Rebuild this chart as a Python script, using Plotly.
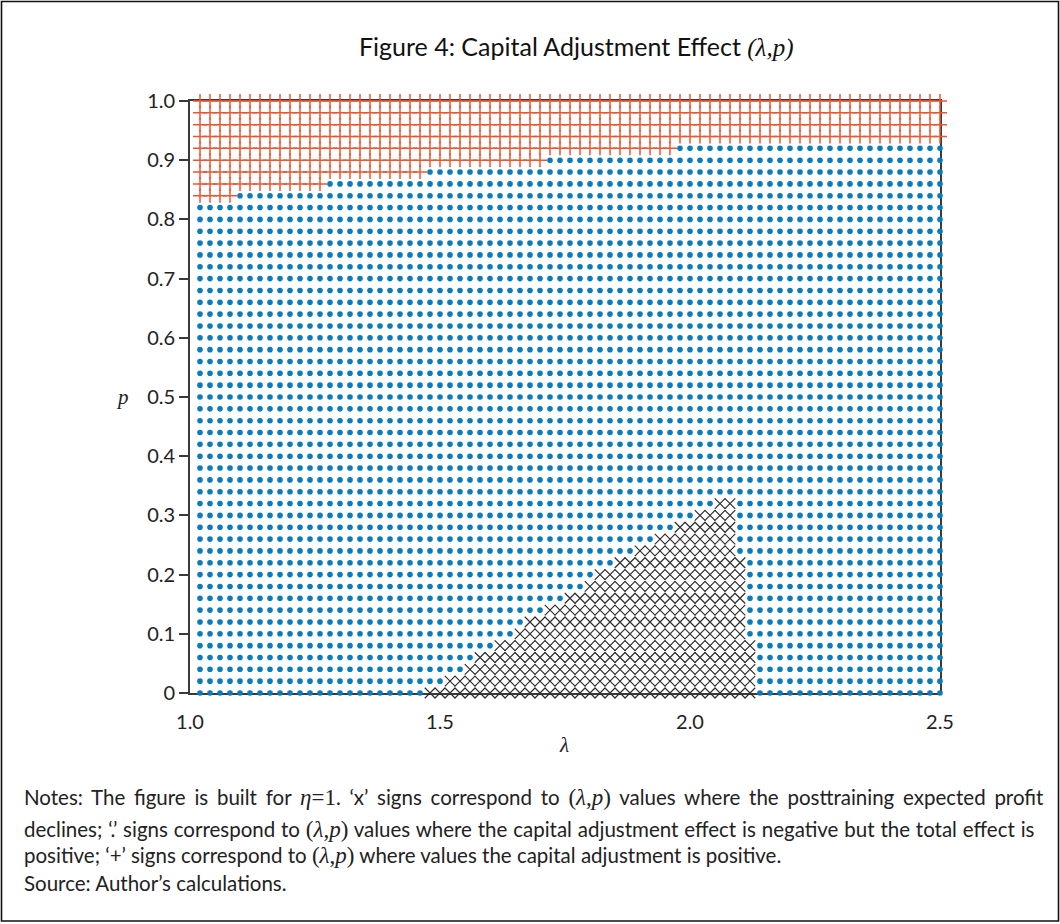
import numpy as np
import plotly.graph_objects as go

# ---------------- data ----------------
# grid of (lambda, p) evaluation points
lambda_grid = np.round(np.arange(1.02, 2.5001, 0.02), 2)
p_grid = np.round(np.arange(0.0, 1.0001, 0.02), 2)

# '+' region: from each lambda breakpoint onward, '+' signs start at this p
plus_break_lambda = [1.02, 1.10, 1.28, 1.48, 1.72, 1.98]
plus_start_p = [0.84, 0.86, 0.88, 0.90, 0.92, 0.94]

# 'x' region: for each p row, first and last lambda with an 'x'
x_rows_p = [0.00, 0.02, 0.04, 0.06, 0.08, 0.10, 0.12, 0.14, 0.16,
            0.18, 0.20, 0.22, 0.24, 0.26, 0.28, 0.30, 0.32]
x_first_lambda = [1.48, 1.52, 1.56, 1.58, 1.62, 1.66, 1.68, 1.72, 1.76,
                  1.80, 1.82, 1.86, 1.90, 1.94, 1.98, 2.02, 2.06]
x_last_lambda = [2.12, 2.12, 2.12, 2.12, 2.12, 2.10, 2.10, 2.10, 2.10,
                 2.10, 2.10, 2.10, 2.08, 2.08, 2.08, 2.08, 2.08]

y_tick_vals = [0, 0.1, 0.2, 0.3, 0.4, 0.5, 0.6, 0.7, 0.8, 0.9, 1.0]
y_tick_text = ["0", "0.1", "0.2", "0.3", "0.4", "0.5", "0.6", "0.7", "0.8", "0.9", "1.0"]
x_tick_vals = [1.0, 1.5, 2.0, 2.5]
x_tick_text = ["1.0", "1.5", "2.0", "2.5"]

# ---------------- classify grid ----------------
def plus_threshold(lam):
    thr = plus_start_p[0]
    for b, t in zip(plus_break_lambda, plus_start_p):
        if lam >= b - 1e-9:
            thr = t
    return thr

x_lookup = {round(p, 2): (a, b) for p, a, b in zip(x_rows_p, x_first_lambda, x_last_lambda)}

dots_x, dots_y, xs_x, xs_y, pl_x, pl_y = [], [], [], [], [], []
for lam in lambda_grid:
    thr = plus_threshold(lam)
    for p in p_grid:
        key = round(float(p), 2)
        if p >= thr - 1e-9:
            pl_x.append(lam); pl_y.append(p)
        elif key in x_lookup and x_lookup[key][0] - 1e-9 <= lam <= x_lookup[key][1] + 1e-9:
            xs_x.append(lam); xs_y.append(p)
        else:
            dots_x.append(lam); dots_y.append(p)

# ---------------- figure ----------------
W, H = 1060, 924
L, R, T, B = 190, 120, 101, 231
pw, ph = W - L - R, H - T - B

def px(xp):
    return (xp - L) / pw

def py(yp):
    return (H - B - yp) / ph

fig = go.Figure()
fig.add_trace(go.Scatter(x=dots_x, y=dots_y, mode="markers", cliponaxis=False,
                         marker=dict(symbol="circle", size=5.6, color="#0A7BBD",
                                     line=dict(width=0)),
                         hoverinfo="skip", showlegend=False))
fig.add_trace(go.Scatter(x=xs_x, y=xs_y, mode="markers", cliponaxis=False,
                         marker=dict(symbol="x-thin", size=10.5,
                                     line=dict(width=1.2, color="#2E2E2E")),
                         hoverinfo="skip", showlegend=False))
fig.add_trace(go.Scatter(x=pl_x, y=pl_y, mode="markers", cliponaxis=False,
                         marker=dict(symbol="cross-thin", size=10,
                                     line=dict(width=1.5, color="#EB5530")),
                         hoverinfo="skip", showlegend=False))

fig.update_layout(
    width=W, height=H,
    margin=dict(l=L, r=R, t=T, b=B, autoexpand=False),
    paper_bgcolor="white", plot_bgcolor="white",
    font=dict(family="Lato, Open Sans, sans-serif", color="#222", size=20),
    showlegend=False,
)
fig.update_xaxes(range=[1.0, 2.5], showgrid=False, zeroline=False,
                 showline=True, linecolor="#3a3a3a", linewidth=1.6, mirror=True,
                 layer="below traces",
                 tickvals=x_tick_vals, ticktext=x_tick_text, ticks="",
                 ticklabelstandoff=10, tickfont=dict(size=20))
fig.update_yaxes(range=[0, 1.0], showgrid=False, zeroline=False,
                 showline=True, linecolor="#3a3a3a", linewidth=1.6, mirror=True,
                 layer="below traces",
                 tickvals=y_tick_vals, ticktext=y_tick_text, ticks="outside",
                 ticklen=9, tickwidth=2, tickcolor="#3a3a3a",
                 tickfont=dict(size=20))

serif = "font-family:'Liberation Serif', 'DejaVu Serif', serif"
serif_n = serif + ";font-size:23px"
ann = []
ann.append(dict(x=px(576), y=py(47), xref="paper", yref="paper",
                text="Figure 4: Capital Adjustment Effect "
                     f"<span style=\"{serif}\"><i>(λ,p)</i></span>",
                showarrow=False, xanchor="center", yanchor="middle",
                font=dict(size=25, color="#111")))
ann.append(dict(x=px(122), y=py(397), xref="paper", yref="paper",
                text=f"<span style=\"{serif}\"><i>p</i></span>",
                showarrow=False, xanchor="center", yanchor="middle",
                font=dict(size=21, color="#222")))
ann.append(dict(x=px(564), y=py(745), xref="paper", yref="paper",
                text=f"<span style=\"{serif}\"><i>λ</i></span>",
                showarrow=False, xanchor="center", yanchor="middle",
                font=dict(size=21, color="#222")))

m = lambda s: f"<span style=\"{serif_n}\"><i>{s}</i></span>"
up = lambda s: f"<span style=\"{serif_n}\">{s}</span>"
ws = lambda s, w: f"<span style=\"word-spacing:{w}px\">{s}</span>"
pair = f"{up('(')}{m('λ')}{up(',')}{m('p')}{up(')')}"
note_lines = [
    ws("Notes: The figure is built for ", 3.5) + m('η') + up('=1') +
    ws(". ‘x’ signs correspond to ", 3.5) + pair +
    ws(" values where the posttraining expected profit", 3.5),
    ws("declines; ‘.’ signs correspond to ", 0.6) + pair +
    ws(" values where the capital adjustment effect is negative but the total effect is", 0.6),
    f"positive; ‘+’ signs correspond to {pair} where values the capital adjustment is positive.",
    "Source: Author’s calculations.",
]
note_y = [797, 829, 856, 883]
for t, yy in zip(note_lines, note_y):
    ann.append(dict(x=px(22), y=py(yy), xref="paper", yref="paper", text=t,
                    showarrow=False, xanchor="left", yanchor="middle",
                    font=dict(size=20.5, color="#222")))
fig.update_layout(annotations=ann)

# outer frame of the figure
fig.add_shape(type="rect", xref="paper", yref="paper",
              x0=px(1.5), x1=px(1058.5), y0=py(921), y1=py(1.5),
              line=dict(color="#111", width=1.6), fillcolor="rgba(0,0,0,0)")

fig.write_html("out.html", config={"displayModeBar": False},
               post_script="document.body.style.margin='0';document.body.style.overflow='hidden';")
